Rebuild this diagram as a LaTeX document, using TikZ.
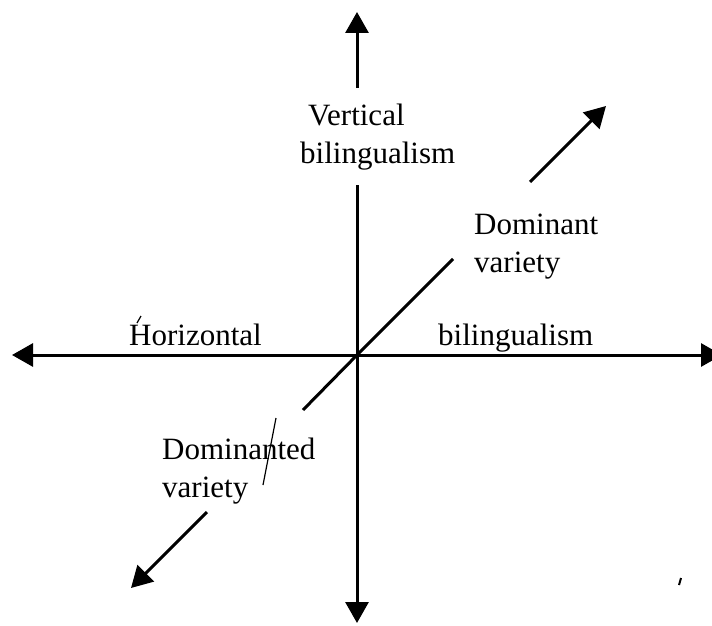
\documentclass[tikz,border=0pt]{standalone}
\usepackage{fontspec}
\setmainfont{Liberation Serif}
\usetikzlibrary{arrows.meta}
\tikzset{
  axis/.style={line width=3pt, -{Triangle[length=21pt,width=23pt]}},
  seg/.style={line width=3pt},
  lbl/.style={font=\fontsize{31}{37.5}\selectfont, inner sep=0pt, align=left},
  scanmark/.style={line width=1.2pt}
}
\begin{document}
\begin{tikzpicture}[x=1pt,y=-1pt]
\useasboundingbox (0,0) rectangle (712,626);
% coordinates
\coordinate (O) at (357,355);
\coordinate (top) at (357,12);
\coordinate (vgapA) at (357,88);
\coordinate (vgapB) at (357,185);
\coordinate (bottom) at (357,623);
\coordinate (left) at (12,355);
\coordinate (right) at (722,355);
\coordinate (ne1) at (453,259);
\coordinate (ne2) at (530,182);
\coordinate (neTip) at (606,106);
\coordinate (sw1) at (303,410);
\coordinate (sw2) at (207,512);
\coordinate (swTip) at (131,588);
% axes
\draw[axis] (vgapA) -- (top);
\draw[axis] (vgapB) -- (bottom);
\draw[axis] (O) -- (left);
\draw[axis] (O) -- (right);
\draw[seg] (O) -- (ne1);
\draw[axis] (ne2) -- (neTip);
\draw[seg] (O) -- (sw1);
\draw[axis] (sw2) -- (swTip);
% labels (base anchor = baseline of the last line)
\node[lbl, anchor=base west] (vert) at (300,163) {\hspace*{8pt}Vertical\\bilingualism};
\node[lbl, anchor=base west] (hor) at (129,345) {Horizontal};
\node[lbl, anchor=base west] (bil) at (438,345) {bilingualism};
\node[lbl, anchor=base west] (dom) at (474,272) {Dominant\\variety};
\node[lbl, anchor=base west] (domd) at (162,497) {Dominanted\\variety};
% scan marks
\coordinate (m1) at (276,418);
\coordinate (m2) at (263,485);
\draw[scanmark] (m1) -- (m2);
\coordinate (h1) at (137,323);
\coordinate (h2) at (141,316);
\draw[scanmark] (h1) -- (h2);
\coordinate (c1) at (681,578);
\coordinate (c2) at (679,585);
\draw[line width=2pt] (c1) -- (c2);
\end{tikzpicture}
\end{document}
